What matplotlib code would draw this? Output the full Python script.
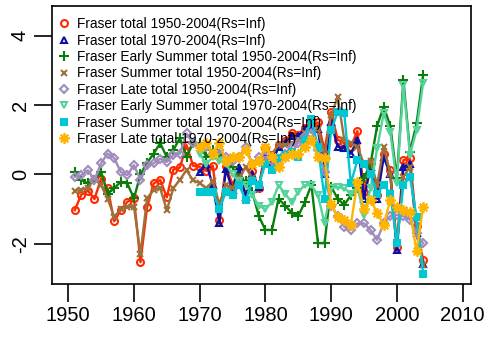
import numpy as np
import matplotlib
matplotlib.use("Agg")
import matplotlib.pyplot as plt
from matplotlib.lines import Line2D

plt.rcParams['font.family'] = ['Liberation Sans', 'DejaVu Sans']
plt.rcParams['axes.unicode_minus'] = False

years_a = np.arange(1951, 2005)
years_b = np.arange(1970, 2005)

total_50 = [-1.03, -0.58, -0.47, -0.71, -0.12, -0.40, -1.35, -1.03, -0.79, -0.68,
            -2.53, -0.95, -0.26, -0.16, -0.66, 0.14, 0.20, 0.85, 0.25, 0.22,
            0.10, 0.25, -1.30, 0.25, -0.30, 0.10, -0.35, 0.10, -0.40, 0.75,
            0.55, 0.85, 0.95, 1.20, 1.15, 1.35, 1.40, 1.50, 0.70, 1.80,
            1.00, 0.90, 0.80, 1.25, -0.50, 0.35, -0.60, 0.60, 0.12, -2.09,
            0.41, 0.46, -1.50, -2.47]
total_70 = [0.07, 0.30, -0.30, -1.40, 0.15, -0.45, 0.20, -0.65, 0.00, -0.35,
            0.55, 0.30, 0.80, 0.90, 1.10, 1.10, 1.30, 1.35, 1.30, 0.00,
            1.50, 0.80, 0.75, 0.60, 1.00, -0.70, 0.20, -0.70, 0.50, 0.00,
            -2.18, 0.22, 0.30, -1.70, -2.57]
early_50 = [0.07, -0.16, -0.26, -0.16, 0.07, -0.55, -0.40, -0.21, -0.26, -0.69,
            0.00, 0.33, 0.60, 0.90, 0.50, 0.70, 1.05, 0.50, 0.90, 0.90,
            0.50, 0.70, 0.60, 0.40, 0.20, -0.10, -0.20, -0.50, -1.20, -1.60,
            -1.60, -0.70, -0.90, -1.10, -1.20, -0.80, -0.30, -1.98, -1.98, -0.35,
            -0.70, -0.88, -0.60, -0.40, -0.10, 0.30, 1.40, 1.95, 1.40, -0.10,
            2.72, 0.65, 1.47, 2.86]
summer_50 = [-0.47, -0.45, -0.38, -0.12, -0.31, -0.70, -1.22, -1.00, -0.95, -0.93,
             -2.28, -0.69, -0.45, -0.40, -1.03, -0.40, -0.15, 0.12, -0.17, -0.25,
             -0.40, -0.20, -0.85, -0.30, -0.40, -0.10, 0.20, -0.10, -0.30, 0.45,
             0.60, 0.85, 0.85, 0.90, 1.00, 1.20, 1.50, 1.30, 0.60, 1.70,
             2.24, 1.00, 0.90, 0.80, 0.30, 0.40, -0.30, 0.80, 0.00, -2.00,
             -0.07, 0.22, -1.50, -2.62]
late_50 = [-0.07, -0.02, 0.12, -0.16, 0.32, 0.60, 0.47, 0.07, -0.02, 0.27,
           -0.16, 0.27, 0.32, 0.45, 0.36, 0.56, 0.60, 1.18, 0.90, 0.80,
           0.80, 0.60, 0.70, 0.50, 0.40, 0.50, 0.80, 0.30, 0.50, 0.50,
           0.40, 0.30, 0.60, 0.80, 0.90, 1.10, 1.30, 0.70, 0.07, -0.90,
           -1.20, -1.51, -1.60, -1.41, -1.41, -1.60, -1.89, -1.40, -1.20, -1.17,
           -1.20, -1.30, -1.70, -1.99]
early_70 = [0.60, 0.30, 0.50, 0.40, 0.30, 0.00, -0.20, -0.30, -0.60, -0.90,
            -1.00, -0.80, -0.31, -0.55, -0.80, -0.50, -0.31, -0.31, -0.60, -1.41,
            -0.40, -0.36, -0.40, -0.55, -0.36, -1.17, -0.40, 0.75, 1.76, 1.23,
            -0.26, 2.57, 0.56, 1.28, 2.63]
summer_70 = [-0.50, -0.50, -0.50, -1.00, -0.50, -0.60, -0.30, -0.75, -0.20, -0.30,
             0.30, 0.13, 0.46, 0.56, 0.65, 0.51, 1.00, 1.60, 0.80, -0.70,
             1.27, 1.80, 1.76, -0.26, 0.41, 0.30, 0.00, -0.55, -0.30, -0.55,
             -1.99, -0.30, -0.07, -1.22, -2.86]
late_70 = [0.80, 0.90, 0.60, 0.90, 0.40, 0.50, 0.50, 0.70, 0.30, 0.40,
           0.80, 0.50, 0.20, 0.50, 0.60, 0.60, 0.80, 1.00, 0.50, 0.46,
           -0.84, -1.22, -1.32, -1.46, -0.21, -1.00, -0.74, -1.10, -1.46, -0.74,
           -0.93, -1.03, -1.08, -2.22, -0.93]

labels = ["Fraser total 1950-2004(Rs=Inf)",
          "Fraser total 1970-2004(Rs=Inf)",
          "Fraser Early Summer total 1950-2004(Rs=Inf)",
          "Fraser Summer total 1950-2004(Rs=Inf)",
          "Fraser Late total 1950-2004(Rs=Inf)",
          "Fraser Early Summer total 1970-2004(Rs=Inf)",
          "Fraser Summer total 1970-2004(Rs=Inf)",
          "Fraser Late total 1970-2004(Rs=Inf)"]

# (x, y, colour, marker, hollow, size, edge width)
series = [(years_a, total_50, "#ff2a00", "o", True, 5, 1.5),
          (years_b, total_70, "#1010a0", "^", True, 5, 1.5),
          (years_a, early_50, "#0a7d0a", "+", False, 6.5, 1.5),
          (years_a, summer_50, "#a0703a", "x", False, 5, 1.5),
          (years_a, late_50, "#a08cbc", "D", True, 4.3, 1.5),
          (years_b, early_70, "#55d39b", "v", True, 5, 1.5),
          (years_b, summer_70, "#00c8d2", "s", False, 4.8, 1.5),
          (years_b, late_70, "#ffb400", (8, 2, 0), False, 7.5, 1.3)]

fig = plt.figure(figsize=(4.88, 3.39), dpi=100)
ax = fig.add_axes([0.107, 0.162, 0.858, 0.820])

handles = []
for (x, y, c, m, hollow, ms, mew), lab in zip(series, labels):
    style = dict(marker=m, ms=ms, mfc="none" if hollow else c, mec=c, mew=mew)
    ax.plot(x, y, color=c, lw=1.7, **style)
    handles.append(Line2D([], [], ls="none", color=c, **style))

ax.set_xlim(1947.57, 2011.27)
ax.set_ylim(-3.16, 4.85)
ax.set_xticks([1950, 1960, 1970, 1980, 1990, 2000, 2010])
ax.set_yticks([-2, 0, 2, 4])
ax.tick_params(length=13, width=1.2, labelsize=14.5)
ax.tick_params(axis="x", pad=3)
ax.tick_params(axis="y", pad=3)
for lab in ax.get_yticklabels():
    lab.set_rotation(90)
    lab.set_va("center")
for s in ax.spines.values():
    s.set_linewidth(1.2)

ax.legend(handles, labels, loc="upper left", bbox_to_anchor=(-0.012, 0.995),
          frameon=False, fontsize=9.9, handlelength=1.0, handletextpad=0.5,
          labelspacing=0.175, borderaxespad=0.3)

fig.savefig("out.png", dpi=100)
